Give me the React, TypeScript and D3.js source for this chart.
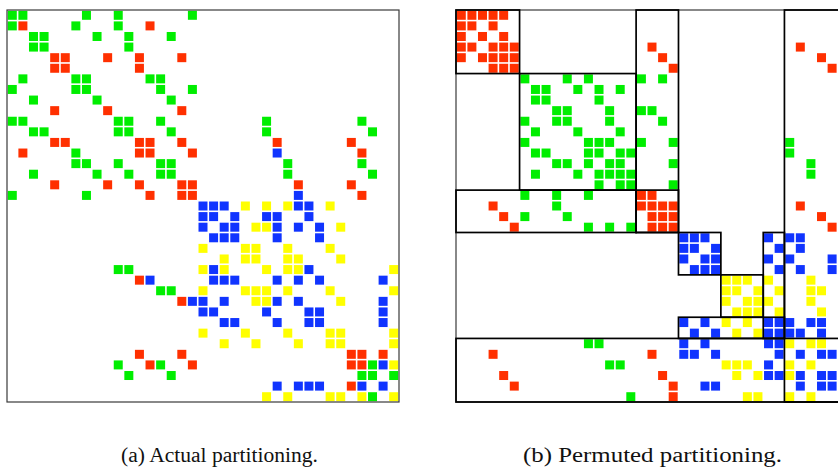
import { useEffect, useRef } from "react";
import * as d3 from "d3";

// matrix size (37 x 37 sparse pattern)
const n = 37;

// each row lists the nonzero columns, with a colour letter (g, r, b, y)
const actualRows = [
  "0g 1g 7g 10g 17g",
  "0g 1r 6g 10g 13r",
  "2g 3g 8g 11g 15g",
  "2g 3g 11g",
  "4r 5r 9r 12r 16r",
  "4r 5r 12r",
  "1g 6g 7g 13g 14g",
  "0g 6g 7g 14g 17g",
  "2g 8g 15g",
  "4r 9r 16r",
  "0g 1g 10g 11g 14g 24g 33g",
  "2g 3g 10g 11g 15g 24g 34g",
  "4r 5r 12r 13r 16r 25r 32r",
  "1r 6g 12r 13r 17r 25b 33r",
  "6g 7g 10g 14g 15g 26g 33g",
  "2g 8g 11g 14g 15g 26g 34g",
  "4r 9r 12r 16r 17r 27r 32r",
  "0g 7g 13r 16r 17r 27b 33r",
  "18b 19b 20b 22y 24y 26y 27b 28b 30y",
  "18b 19b 21b 24b 25b 28b",
  "18b 20b 21b 23y 24y 25b 27b 29b 31y",
  "19b 20b 21b 25b 29b",
  "18y 22y 23y 26y 30y",
  "20y 22y 23y 26y 27y 31y",
  "10g 11g 18y 19b 20y 24y 26y 27y 28b 36y",
  "12r 13b 19b 20b 21b 25b 27b 29b 35b",
  "14g 15g 18y 22y 23y 24y 26y 30y 36y",
  "16r 17b 18b 20b 23y 24y 25b 27b 31y 35b",
  "18b 19b 24b 28b 29b 35b",
  "20b 21b 25b 28b 29b 35b",
  "18y 22y 26y 30y 31y 36y",
  "20y 23y 27y 30y 31y 36y",
  "12r 16r 32r 33r 35r",
  "10g 13r 14g 17r 32r 33r 34g 35b 36y",
  "11g 15g 33g 34g 36g",
  "25b 27b 28b 29b 32r 33b 35b",
  "24y 26y 30y 31y 33y 34g 36y",
];

const permutedRows = [
  "0r 1r 2r 3r 4r",
  "0r 1r 3r",
  "0r 2r 4r",
  "0r 1r 3r 4r 5r 18r 32r",
  "0r 2r 3r 4r 5r 19r 34r",
  "3r 4r 5r 20r 35r",
  "6g 10g 12g 17g 19g",
  "7g 8g 11g 13g 15g",
  "7g 8g 13g",
  "9g 10g 14g 17g 18g",
  "6g 9g 10g 14g 19g",
  "7g 11g 15g",
  "6g 12g 13g 14g 17g 20g 31g",
  "7g 8g 12g 13g 15g 16g 31g",
  "9g 10g 12g 14g 15g 20g 33g",
  "7g 11g 13g 14g 15g 16g 33g",
  "13g 15g 16g 20g 36g",
  "6g 9g 12g 17r 18r",
  "3r 9g 17r 18r 19r 20r 32r",
  "4r 6g 10g 18r 19r 20r 34r",
  "5r 12g 14g 16g 18r 19r 20r 35r 36r",
  "21b 22b 23b 29b 31b 32b",
  "21b 22b 24b 30b 32b",
  "21b 23b 24b 29b 31b 35b",
  "22b 23b 24b 30b 32b 35b",
  "25y 26y 27y 29y 33y",
  "25y 26y 28y 30y 33y 34y",
  "25y 27y 28y 29y 33y 36y",
  "26y 27y 28y 30y 34y 36y",
  "21b 23b 25y 27y 29b 30b 31b 33b 34b",
  "22b 24b 26y 28y 29b 30b 31b 32b 34b",
  "12g 13g 21b 23b 29b 30b 31y 33y 34y 36y",
  "3r 18r 21b 22b 24b 30b 32b 34b 35b",
  "14g 15g 25y 26y 27y 29b 31y 33y 36y",
  "4r 19r 26y 28y 29b 30b 31y 32b 34b 35b",
  "5r 20r 23b 24b 32b 34b 35b",
  "16g 20r 27y 28y 31y 33y 36y",
];

// partition boxes of the permuted matrix: [row0, row1, col0, col1]
const permutedBlocks = [
  [0, 6, 0, 6],
  [6, 17, 6, 17],
  [17, 21, 0, 17],
  [0, 21, 17, 21],
  [17, 21, 17, 21],
  [21, 25, 21, 25],
  [25, 29, 25, 29],
  [29, 31, 21, 31],
  [21, 31, 29, 31],
  [31, 37, 0, 37],
  [0, 37, 31, 37],
];

const captions = ["(a) Actual partitioning.", "(b) Permuted partitioning."];

const colours = { g: "#00ee00", r: "#ff3000", b: "#1034ff", y: "#ffff00" };

const parseRows = (rows) =>
  rows.flatMap((row, r) =>
    row.split(" ").map((tok) => ({
      r,
      c: +tok.slice(0, -1),
      k: tok.slice(-1),
    }))
  );

const width = 838;
const height = 469;
const size = 392;
const top = 10;

const drawMatrix = (svg, cells, left, blocks, caption, captionX, captionW) => {
  const x = d3.scaleLinear().domain([0, n]).range([left, left + size]);
  const y = d3.scaleLinear().domain([0, n]).range([top, top + size]);
  const pitch = size / n;
  const g = svg.append("g");

  g.selectAll("rect.cell")
    .data(cells)
    .join("rect")
    .attr("class", "cell")
    .attr("x", (d) => x(d.c) + 0.8)
    .attr("y", (d) => y(d.r) + 0.8)
    .attr("width", pitch - 1.6)
    .attr("height", pitch - 1.6)
    .attr("fill", (d) => colours[d.k]);

  // outer frame
  g.append("rect")
    .attr("x", x(0))
    .attr("y", y(0))
    .attr("width", x(n) - x(0))
    .attr("height", y(n) - y(0))
    .attr("fill", "none")
    .attr("stroke", "#3a3a3a")
    .attr("stroke-width", 1.2);

  g.selectAll("rect.block")
    .data(blocks)
    .join("rect")
    .attr("class", "block")
    .attr("x", (d) => x(d[2]))
    .attr("y", (d) => y(d[0]))
    .attr("width", (d) => x(d[3]) - x(d[2]))
    .attr("height", (d) => y(d[1]) - y(d[0]))
    .attr("fill", "none")
    .attr("stroke", "#000")
    .attr("stroke-width", 1.7);

  svg.append("text")
    .attr("x", captionX)
    .attr("y", 462)
    .attr("text-anchor", "middle")
    .attr("font-family", "'Liberation Serif', serif")
    .attr("font-size", 20)
    .attr("textLength", captionW)
    .attr("lengthAdjust", "spacingAndGlyphs")
    .attr("fill", "#111")
    .text(caption);
};

export default function App() {
  const ref = useRef(null);

  useEffect(() => {
    const svg = d3.select(ref.current);
    svg.selectAll("*").remove();
    drawMatrix(svg, parseRows(actualRows), 7, [], captions[0], 219.5, 197);
    drawMatrix(svg, parseRows(permutedRows), 456, permutedBlocks, captions[1], 652.5, 259);
  }, []);

  return (
    <svg
      ref={ref}
      width={width}
      height={height}
      style={{ position: "absolute", left: 0, top: 0, background: "#fff" }}
    />
  );
}
